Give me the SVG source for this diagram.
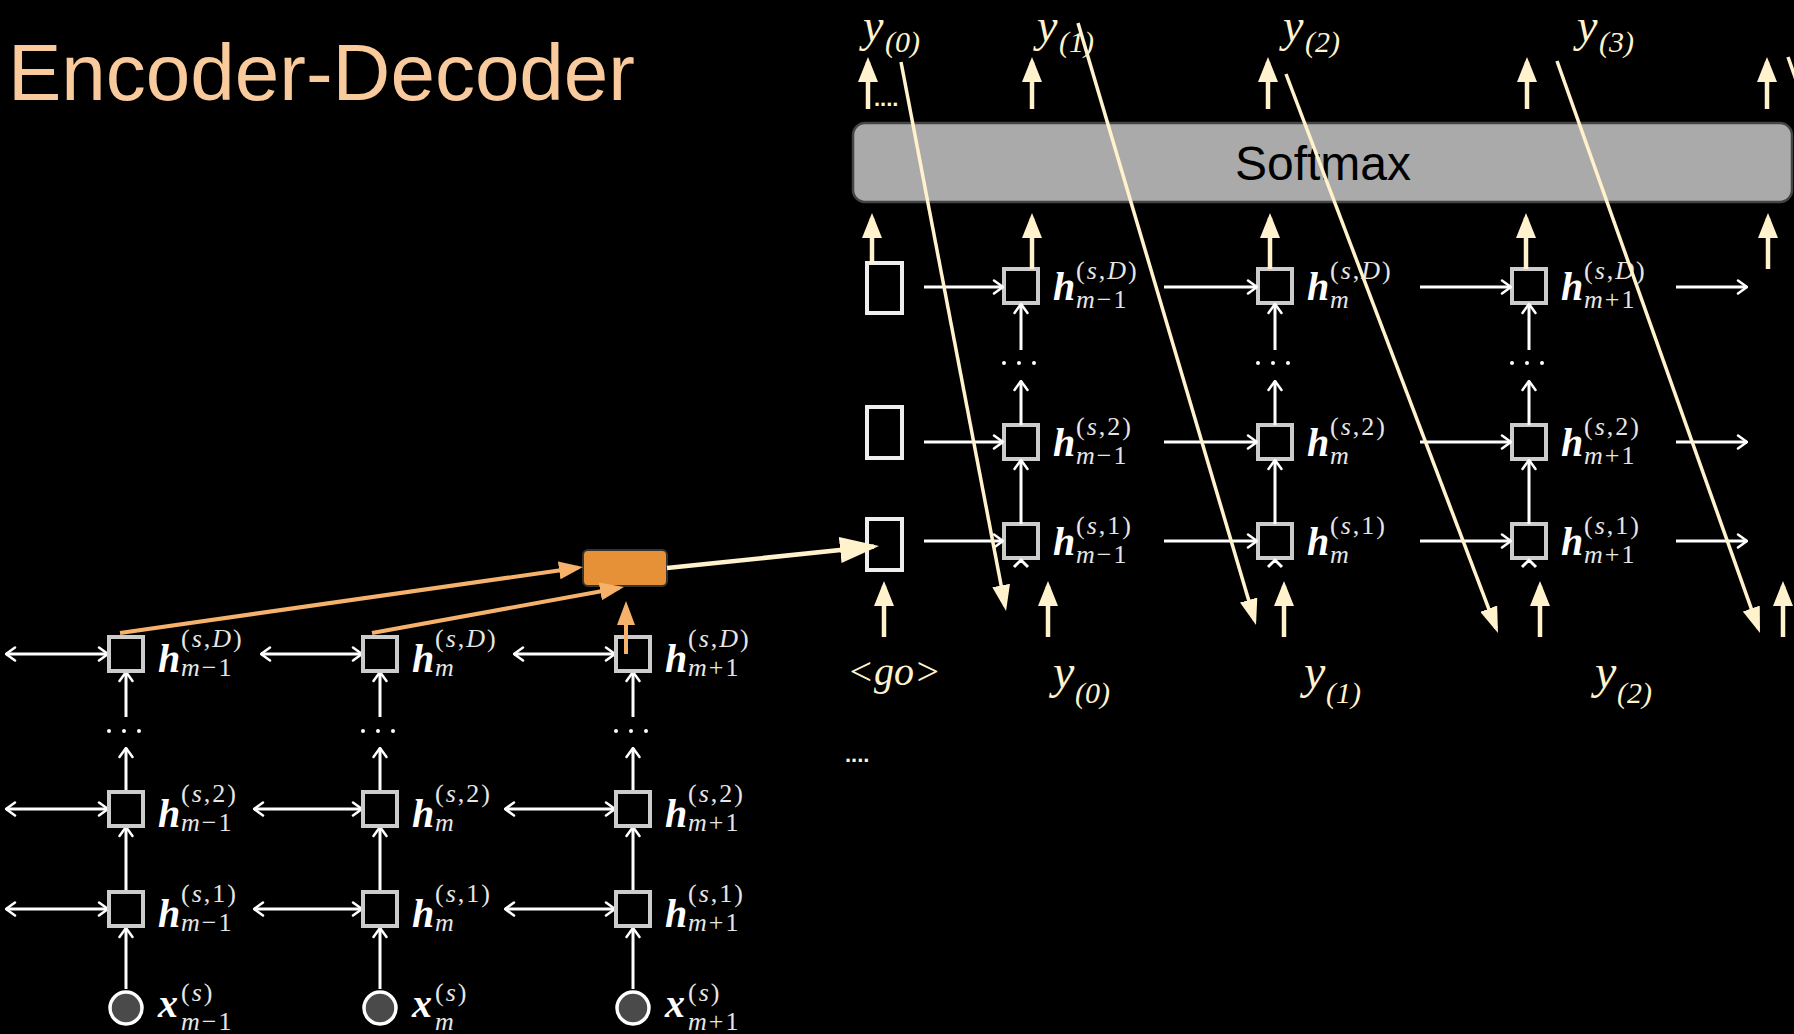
<svg xmlns="http://www.w3.org/2000/svg" width="1794" height="1034" viewBox="0 0 1794 1034">
<style>
.bg{fill:#000}
.box{fill:#000;stroke:#cccccc;stroke-width:4}
.lbox{fill:#000;stroke:#eeeeee;stroke-width:4}
.xin{fill:#4a4a4a;stroke:#fff;stroke-width:3.5}
.wl{stroke:#fff;stroke-width:3;fill:none}
.cl{stroke:#fff2cc;stroke-width:4.5;fill:none}
.cd{stroke:#fff2cc;stroke-width:3.5;fill:none}
.ol{stroke:#f6b26b;stroke-width:4;fill:none}
.dot{fill:#fff}
.hb{font-family:"Liberation Serif",serif;font-style:italic;font-weight:bold;font-size:40px;fill:#fff}
.sc{font-family:"Liberation Serif",serif;font-size:26px;fill:#e6e6e6;letter-spacing:2px}
.it{font-style:italic}
.yl{font-family:"Liberation Serif",serif;font-style:italic;font-size:48px;fill:#fff2cc}
.yt{font-family:"Liberation Serif",serif;font-style:italic;font-size:46px;fill:#fff2cc}
.ys{font-family:"Liberation Serif",serif;font-style:italic;font-size:30px;fill:#fff2cc}
.title{font-family:"Liberation Sans",Arial,sans-serif;font-size:80px;fill:#f9cb9c}
.smx{font-family:"Liberation Sans",Arial,sans-serif;font-size:48px;fill:#000}
.ell{font-family:"Liberation Sans",Arial,sans-serif;font-weight:bold;font-size:22px;fill:#fff2cc}
</style>
<defs>
<marker id="wa" viewBox="0 0 12 16" markerWidth="12" markerHeight="16" refX="11" refY="8" orient="auto-start-reverse" markerUnits="userSpaceOnUse"><path d="M2,1.5 L11,8 L2,14.5" stroke="#fff" stroke-width="2.5" fill="none" stroke-linecap="round" stroke-linejoin="round"/></marker>
<marker id="ca" viewBox="0 0 25 20" markerWidth="25" markerHeight="20" refX="20" refY="10" orient="auto" markerUnits="userSpaceOnUse"><path d="M0,0 L25,10 L0,20 z" fill="#fff2cc"/></marker>
<marker id="cd" viewBox="0 0 26 18" markerWidth="26" markerHeight="18" refX="21" refY="9" orient="auto" markerUnits="userSpaceOnUse"><path d="M0,0 L26,9 L0,18 z" fill="#fff2cc"/></marker>
<marker id="cb" viewBox="0 0 39 26" markerWidth="39" markerHeight="26" refX="34" refY="13" orient="auto" markerUnits="userSpaceOnUse"><path d="M0,0 L39,13 L0,26 z" fill="#fff2cc"/></marker>
<marker id="oa" viewBox="0 0 24 18" markerWidth="24" markerHeight="18" refX="19" refY="9" orient="auto" markerUnits="userSpaceOnUse"><path d="M0,0 L24,9 L0,18 z" fill="#f6b26b"/></marker>
</defs>
<rect class="bg" x="0" y="0" width="1794" height="1034"/>
<text class="title" x="8" y="100">Encoder-Decoder</text>

<g id="softmax">
<rect x="853" y="123" width="939" height="79" rx="12" fill="#aaaaaa" stroke="#444" stroke-width="2.5"/>
<text class="smx" x="1323" y="180" text-anchor="middle">Softmax</text>
</g>

<g id="enc-connectors">
<line class="wl" x1="6" y1="654" x2="108" y2="654" marker-start="url(#wa)" marker-end="url(#wa)"/>
<line class="wl" x1="261" y1="654" x2="362" y2="654" marker-start="url(#wa)" marker-end="url(#wa)"/>
<line class="wl" x1="514" y1="654" x2="615" y2="654" marker-start="url(#wa)" marker-end="url(#wa)"/>
<line class="wl" x1="6" y1="809" x2="108" y2="809" marker-start="url(#wa)" marker-end="url(#wa)"/>
<line class="wl" x1="254" y1="809" x2="362" y2="809" marker-start="url(#wa)" marker-end="url(#wa)"/>
<line class="wl" x1="505" y1="809" x2="615" y2="809" marker-start="url(#wa)" marker-end="url(#wa)"/>
<line class="wl" x1="6" y1="909" x2="108" y2="909" marker-start="url(#wa)" marker-end="url(#wa)"/>
<line class="wl" x1="254" y1="909" x2="362" y2="909" marker-start="url(#wa)" marker-end="url(#wa)"/>
<line class="wl" x1="505" y1="909" x2="615" y2="909" marker-start="url(#wa)" marker-end="url(#wa)"/>
<line class="wl" x1="126" y1="989" x2="126" y2="928" marker-end="url(#wa)"/>
<line class="wl" x1="126" y1="892" x2="126" y2="827" marker-end="url(#wa)"/>
<line class="wl" x1="126" y1="792" x2="126" y2="748" marker-end="url(#wa)"/>
<line class="wl" x1="126" y1="717" x2="126" y2="672" marker-end="url(#wa)"/>
<line class="wl" x1="380" y1="989" x2="380" y2="928" marker-end="url(#wa)"/>
<line class="wl" x1="380" y1="892" x2="380" y2="827" marker-end="url(#wa)"/>
<line class="wl" x1="380" y1="792" x2="380" y2="748" marker-end="url(#wa)"/>
<line class="wl" x1="380" y1="717" x2="380" y2="672" marker-end="url(#wa)"/>
<line class="wl" x1="633" y1="989" x2="633" y2="928" marker-end="url(#wa)"/>
<line class="wl" x1="633" y1="892" x2="633" y2="827" marker-end="url(#wa)"/>
<line class="wl" x1="633" y1="792" x2="633" y2="748" marker-end="url(#wa)"/>
<line class="wl" x1="633" y1="717" x2="633" y2="672" marker-end="url(#wa)"/>
<circle class="dot" cx="109" cy="731" r="2"/><circle class="dot" cx="124" cy="731" r="2"/><circle class="dot" cx="139" cy="731" r="2"/>
<circle class="dot" cx="363" cy="731" r="2"/><circle class="dot" cx="378" cy="731" r="2"/><circle class="dot" cx="393" cy="731" r="2"/>
<circle class="dot" cx="616" cy="731" r="2"/><circle class="dot" cx="631" cy="731" r="2"/><circle class="dot" cx="646" cy="731" r="2"/>
</g>

<g id="enc-m-1-D"><rect class="box" x="109" y="637" width="34" height="34"/>
<text class="hb" x="158" y="672">h</text><text class="sc" x="181" y="647">(<tspan class="it">s</tspan>,<tspan class="it">D</tspan>)</text><text class="sc" x="181" y="676"><tspan class="it">m</tspan>−1</text></g>
<g id="enc-m-D"><rect class="box" x="363" y="637" width="34" height="34"/>
<text class="hb" x="412" y="672">h</text><text class="sc" x="435" y="647">(<tspan class="it">s</tspan>,<tspan class="it">D</tspan>)</text><text class="sc" x="435" y="676"><tspan class="it">m</tspan></text></g>
<g id="enc-m+1-D"><rect class="box" x="616" y="637" width="34" height="34"/>
<text class="hb" x="665" y="672">h</text><text class="sc" x="688" y="647">(<tspan class="it">s</tspan>,<tspan class="it">D</tspan>)</text><text class="sc" x="688" y="676"><tspan class="it">m</tspan>+1</text></g>

<g id="enc-m-1-2"><rect class="box" x="109" y="792" width="34" height="34"/>
<text class="hb" x="158" y="827">h</text><text class="sc" x="181" y="802">(<tspan class="it">s</tspan>,2)</text><text class="sc" x="181" y="831"><tspan class="it">m</tspan>−1</text></g>
<g id="enc-m-2"><rect class="box" x="363" y="792" width="34" height="34"/>
<text class="hb" x="412" y="827">h</text><text class="sc" x="435" y="802">(<tspan class="it">s</tspan>,2)</text><text class="sc" x="435" y="831"><tspan class="it">m</tspan></text></g>
<g id="enc-m+1-2"><rect class="box" x="616" y="792" width="34" height="34"/>
<text class="hb" x="665" y="827">h</text><text class="sc" x="688" y="802">(<tspan class="it">s</tspan>,2)</text><text class="sc" x="688" y="831"><tspan class="it">m</tspan>+1</text></g>

<g id="enc-m-1-1"><rect class="box" x="109" y="892" width="34" height="34"/>
<text class="hb" x="158" y="927">h</text><text class="sc" x="181" y="902">(<tspan class="it">s</tspan>,1)</text><text class="sc" x="181" y="931"><tspan class="it">m</tspan>−1</text></g>
<g id="enc-m-1b"><rect class="box" x="363" y="892" width="34" height="34"/>
<text class="hb" x="412" y="927">h</text><text class="sc" x="435" y="902">(<tspan class="it">s</tspan>,1)</text><text class="sc" x="435" y="931"><tspan class="it">m</tspan></text></g>
<g id="enc-m+1-1"><rect class="box" x="616" y="892" width="34" height="34"/>
<text class="hb" x="665" y="927">h</text><text class="sc" x="688" y="902">(<tspan class="it">s</tspan>,1)</text><text class="sc" x="688" y="931"><tspan class="it">m</tspan>+1</text></g>

<g id="x-m-1"><circle class="xin" cx="126" cy="1008" r="16"/>
<text class="hb" x="158" y="1017">x</text><text class="sc" x="181" y="1001">(<tspan class="it">s</tspan>)</text><text class="sc" x="181" y="1030"><tspan class="it">m</tspan>−1</text></g>
<g id="x-m"><circle class="xin" cx="380" cy="1008" r="16"/>
<text class="hb" x="412" y="1017">x</text><text class="sc" x="435" y="1001">(<tspan class="it">s</tspan>)</text><text class="sc" x="435" y="1030"><tspan class="it">m</tspan></text></g>
<g id="x-m+1"><circle class="xin" cx="633" cy="1008" r="16"/>
<text class="hb" x="665" y="1017">x</text><text class="sc" x="688" y="1001">(<tspan class="it">s</tspan>)</text><text class="sc" x="688" y="1030"><tspan class="it">m</tspan>+1</text></g>

<g id="context"><rect x="583" y="550" width="84" height="36" rx="5" fill="#e69138" stroke="#333" stroke-width="2"/></g>

<g id="dec-init-D"><rect class="lbox" x="867" y="263" width="35" height="50"/></g>
<g id="dec-init-2"><rect class="lbox" x="867" y="407" width="35" height="51"/></g>
<g id="dec-init-1"><rect class="lbox" x="867" y="519" width="35" height="51"/></g>

<g id="dec-m-1-D"><rect class="box" x="1004" y="269" width="34" height="34"/>
<text class="hb" x="1053" y="300">h</text><text class="sc" x="1076" y="279">(<tspan class="it">s</tspan>,<tspan class="it">D</tspan>)</text><text class="sc" x="1076" y="308"><tspan class="it">m</tspan>−1</text></g>
<g id="dec-m-D"><rect class="box" x="1258" y="269" width="34" height="34"/>
<text class="hb" x="1307" y="300">h</text><text class="sc" x="1330" y="279">(<tspan class="it">s</tspan>,<tspan class="it">D</tspan>)</text><text class="sc" x="1330" y="308"><tspan class="it">m</tspan></text></g>
<g id="dec-m+1-D"><rect class="box" x="1512" y="269" width="34" height="34"/>
<text class="hb" x="1561" y="300">h</text><text class="sc" x="1584" y="279">(<tspan class="it">s</tspan>,<tspan class="it">D</tspan>)</text><text class="sc" x="1584" y="308"><tspan class="it">m</tspan>+1</text></g>

<g id="dec-m-1-2"><rect class="box" x="1004" y="425" width="34" height="34"/>
<text class="hb" x="1053" y="456">h</text><text class="sc" x="1076" y="435">(<tspan class="it">s</tspan>,2)</text><text class="sc" x="1076" y="464"><tspan class="it">m</tspan>−1</text></g>
<g id="dec-m-2"><rect class="box" x="1258" y="425" width="34" height="34"/>
<text class="hb" x="1307" y="456">h</text><text class="sc" x="1330" y="435">(<tspan class="it">s</tspan>,2)</text><text class="sc" x="1330" y="464"><tspan class="it">m</tspan></text></g>
<g id="dec-m+1-2"><rect class="box" x="1512" y="425" width="34" height="34"/>
<text class="hb" x="1561" y="456">h</text><text class="sc" x="1584" y="435">(<tspan class="it">s</tspan>,2)</text><text class="sc" x="1584" y="464"><tspan class="it">m</tspan>+1</text></g>

<g id="dec-m-1-1"><rect class="box" x="1004" y="524" width="34" height="34"/>
<text class="hb" x="1053" y="555">h</text><text class="sc" x="1076" y="534">(<tspan class="it">s</tspan>,1)</text><text class="sc" x="1076" y="563"><tspan class="it">m</tspan>−1</text></g>
<g id="dec-m-1b"><rect class="box" x="1258" y="524" width="34" height="34"/>
<text class="hb" x="1307" y="555">h</text><text class="sc" x="1330" y="534">(<tspan class="it">s</tspan>,1)</text><text class="sc" x="1330" y="563"><tspan class="it">m</tspan></text></g>
<g id="dec-m+1-1"><rect class="box" x="1512" y="524" width="34" height="34"/>
<text class="hb" x="1561" y="555">h</text><text class="sc" x="1584" y="534">(<tspan class="it">s</tspan>,1)</text><text class="sc" x="1584" y="563"><tspan class="it">m</tspan>+1</text></g>

<g id="y-top">
<text class="yt" x="863" y="41">y</text><text class="ys" x="885" y="52">(0)</text>
<text class="yt" x="1037" y="41">y</text><text class="ys" x="1059" y="52">(1)</text>
<text class="yt" x="1283" y="41">y</text><text class="ys" x="1305" y="52">(2)</text>
<text class="yt" x="1577" y="41">y</text><text class="ys" x="1599" y="52">(3)</text>
<text class="ell" x="874" y="106">....</text>
</g>
<g id="y-bottom">
<text class="yl" x="847" y="685" style="font-size:40px">&lt;go&gt;</text>
<text class="yl" x="1053" y="688">y</text><text class="ys" x="1075" y="703">(0)</text>
<text class="yl" x="1304" y="688">y</text><text class="ys" x="1326" y="703">(1)</text>
<text class="yl" x="1595" y="688">y</text><text class="ys" x="1617" y="703">(2)</text>
<text class="ell" x="845" y="762">....</text>
</g>

<g id="connectors">
<line class="wl" x1="924" y1="287" x2="1003" y2="287" marker-end="url(#wa)"/>
<line class="wl" x1="1164" y1="287" x2="1257" y2="287" marker-end="url(#wa)"/>
<line class="wl" x1="1420" y1="287" x2="1511" y2="287" marker-end="url(#wa)"/>
<line class="wl" x1="1676" y1="287" x2="1747" y2="287" marker-end="url(#wa)"/>
<line class="wl" x1="924" y1="442" x2="1003" y2="442" marker-end="url(#wa)"/>
<line class="wl" x1="1164" y1="442" x2="1257" y2="442" marker-end="url(#wa)"/>
<line class="wl" x1="1420" y1="442" x2="1511" y2="442" marker-end="url(#wa)"/>
<line class="wl" x1="1676" y1="442" x2="1747" y2="442" marker-end="url(#wa)"/>
<line class="wl" x1="924" y1="541" x2="1003" y2="541" marker-end="url(#wa)"/>
<line class="wl" x1="1164" y1="541" x2="1257" y2="541" marker-end="url(#wa)"/>
<line class="wl" x1="1420" y1="541" x2="1511" y2="541" marker-end="url(#wa)"/>
<line class="wl" x1="1676" y1="541" x2="1747" y2="541" marker-end="url(#wa)"/>
<line class="wl" x1="1021" y1="524" x2="1021" y2="460" marker-end="url(#wa)"/>
<line class="wl" x1="1021" y1="425" x2="1021" y2="381" marker-end="url(#wa)"/>
<line class="wl" x1="1021" y1="350" x2="1021" y2="304" marker-end="url(#wa)"/>
<line class="wl" x1="1275" y1="524" x2="1275" y2="460" marker-end="url(#wa)"/>
<line class="wl" x1="1275" y1="425" x2="1275" y2="381" marker-end="url(#wa)"/>
<line class="wl" x1="1275" y1="350" x2="1275" y2="304" marker-end="url(#wa)"/>
<line class="wl" x1="1529" y1="524" x2="1529" y2="460" marker-end="url(#wa)"/>
<line class="wl" x1="1529" y1="425" x2="1529" y2="381" marker-end="url(#wa)"/>
<line class="wl" x1="1529" y1="350" x2="1529" y2="304" marker-end="url(#wa)"/>
<path class="wl" d="M1014,567 L1021,560 L1028,567 M1268,567 L1275,560 L1282,567 M1522,567 L1529,560 L1536,567"/>
<circle class="dot" cx="1004" cy="363" r="2"/><circle class="dot" cx="1019" cy="363" r="2"/><circle class="dot" cx="1034" cy="363" r="2"/>
<circle class="dot" cx="1258" cy="363" r="2"/><circle class="dot" cx="1273" cy="363" r="2"/><circle class="dot" cx="1288" cy="363" r="2"/>
<circle class="dot" cx="1512" cy="363" r="2"/><circle class="dot" cx="1527" cy="363" r="2"/><circle class="dot" cx="1542" cy="363" r="2"/>
<line class="ol" x1="120" y1="633" x2="578" y2="567.7" marker-end="url(#oa)"/>
<line class="ol" x1="372" y1="633" x2="619" y2="588" marker-end="url(#oa)"/>
<line class="ol" x1="626" y1="654" x2="626" y2="606" marker-end="url(#oa)"/>
<line class="cl" x1="667" y1="568" x2="874" y2="546.5" stroke-width="5" marker-end="url(#cb)"/>
<line class="cl" x1="868" y1="109" x2="868" y2="62" marker-end="url(#ca)"/>
<line class="cl" x1="1032" y1="109" x2="1032" y2="62" marker-end="url(#ca)"/>
<line class="cl" x1="1268" y1="109" x2="1268" y2="62" marker-end="url(#ca)"/>
<line class="cl" x1="1527" y1="109" x2="1527" y2="62" marker-end="url(#ca)"/>
<line class="cl" x1="1767" y1="109" x2="1767" y2="62" marker-end="url(#ca)"/>
<line class="cl" x1="872" y1="263" x2="872" y2="218" marker-end="url(#ca)"/>
<line class="cl" x1="1032" y1="269" x2="1032" y2="218" marker-end="url(#ca)"/>
<line class="cl" x1="1270" y1="269" x2="1270" y2="218" marker-end="url(#ca)"/>
<line class="cl" x1="1526" y1="269" x2="1526" y2="218" marker-end="url(#ca)"/>
<line class="cl" x1="1768" y1="269" x2="1768" y2="218" marker-end="url(#ca)"/>
<line class="cl" x1="884" y1="637" x2="884" y2="586" marker-end="url(#ca)"/>
<line class="cl" x1="1048" y1="637" x2="1048" y2="586" marker-end="url(#ca)"/>
<line class="cl" x1="1284" y1="637" x2="1284" y2="586" marker-end="url(#ca)"/>
<line class="cl" x1="1540" y1="637" x2="1540" y2="586" marker-end="url(#ca)"/>
<line class="cl" x1="1783" y1="637" x2="1783" y2="586" marker-end="url(#ca)"/>
<line class="cd" x1="901" y1="62" x2="1005.1" y2="606.1" marker-end="url(#cd)"/>
<line class="cd" x1="1078" y1="23" x2="1254.6" y2="620.2" marker-end="url(#cd)"/>
<line class="cd" x1="1286" y1="74" x2="1496.2" y2="628.3" marker-end="url(#cd)"/>
<line class="cd" x1="1557" y1="61" x2="1758.3" y2="628.3" marker-end="url(#cd)"/>
<line class="cd" x1="1788" y1="57" x2="1800" y2="91"/>
</g>
</svg>
